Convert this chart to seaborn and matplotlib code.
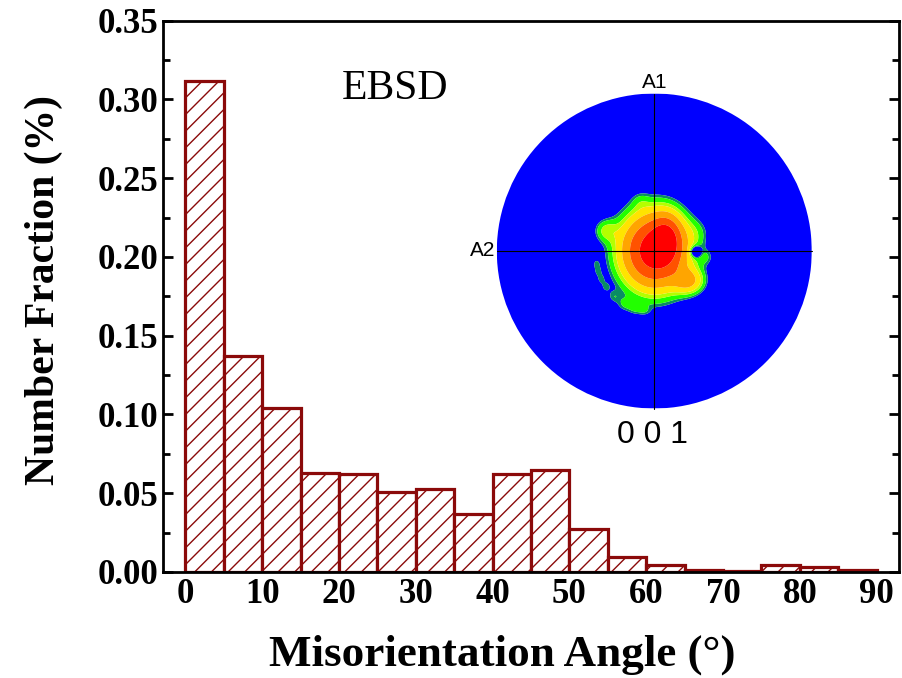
import numpy as np
import pandas as pd
import matplotlib
matplotlib.use("Agg")
import matplotlib.pyplot as plt
from matplotlib.ticker import MultipleLocator, FormatStrFormatter
from matplotlib.patches import Circle
import seaborn as sns

# ---------------- data ----------------
bin_edges = [0, 5, 10, 15, 20, 25, 30, 35, 40, 45, 50, 55, 60, 65, 70, 75, 80, 85, 90]
fractions = [0.312, 0.137, 0.104, 0.063, 0.062, 0.051, 0.053, 0.037, 0.062, 0.065,
             0.027, 0.0095, 0.0045, 0.0013, 0.0006, 0.0045, 0.0032, 0.001]
x_ticks = [0, 10, 20, 30, 40, 50, 60, 70, 80, 90]
y_ticks = [0.00, 0.05, 0.10, 0.15, 0.20, 0.25, 0.30, 0.35]

# pole figure intensity components (unit-circle coords)
pf_x = [0.00, 0.08, 0.22, 0.27, 0.26, 0.33, -0.31, -0.09,
        -0.37, -0.36, -0.34, -0.31, -0.26, -0.19, -0.12, -0.06]
pf_y = [0.00, 0.08, -0.19, 0.12, -0.005, -0.04, 0.13, 0.32,
        -0.08, -0.13, -0.18, -0.23, -0.29, -0.34, -0.37, -0.38]
pf_sx = [0.14, 0.06, 0.065, 0.06, 0.025, 0.035, 0.05, 0.04,
         0.02, 0.02, 0.02, 0.022, 0.03, 0.04, 0.035, 0.03]
pf_sy = [0.16, 0.095, 0.055, 0.06, 0.025, 0.035, 0.05, 0.04,
         0.025, 0.025, 0.025, 0.025, 0.03, 0.035, 0.03, 0.025]
pf_amp = [0.90, 0.40, 0.28, 0.05, -0.22, 0.06, 0.13, 0.04,
          0.06, 0.06, 0.06, 0.06, 0.06, 0.07, 0.06, 0.05]
pf_levels = [-10, 0.077, 0.10, 0.15, 0.20, 0.31, 0.49, 0.73, 10]
pf_colors = ["#0000FF", "#0A8C64", "#22FF00", "#B4FF00", "#FFE400",
             "#FFA500", "#FF5200", "#FF0000"]

# ---------------- style ----------------
sns.set_style("ticks")
plt.rcParams["font.family"] = ["Liberation Serif", "DejaVu Serif"]
plt.rcParams["hatch.linewidth"] = 1.0
for k in ["text.color", "axes.labelcolor", "xtick.color", "ytick.color", "axes.edgecolor"]:
    plt.rcParams[k] = "black"

W, H = 902, 678
fig = plt.figure(figsize=(W / 100, H / 100), dpi=100)
ax = fig.add_axes([163 / W, 1 - 572 / H, (899 - 163) / W, (572 - 20.7) / H])

bar_color = "#8B0A0A"
df = pd.DataFrame({
    "angle": [(a + b) / 2 for a, b in zip(bin_edges[:-1], bin_edges[1:])],
    "fraction": fractions,
})
sns.histplot(data=df, x="angle", weights="fraction", bins=bin_edges, ax=ax,
             stat="count", fill=True, color="white", edgecolor=bar_color,
             linewidth=2.3, alpha=1)
for p in ax.patches:
    p.set_facecolor("white")
    p.set_edgecolor(bar_color)
    p.set_hatch("//")

ax.set_xlim(-2.9, 92.9)
ax.set_ylim(0, 0.35)
ax.set_xticks(x_ticks)
ax.set_yticks(y_ticks)
ax.yaxis.set_major_formatter(FormatStrFormatter("%.2f"))
ax.yaxis.set_minor_locator(MultipleLocator(0.025))
ax.tick_params(axis="y", which="both", direction="in", left=True, right=True,
               width=2, labelsize=25)
ax.tick_params(axis="y", which="major", length=7)
ax.tick_params(axis="y", which="minor", length=5)
ax.tick_params(axis="x", which="both", length=0, labelsize=25, pad=4)
for lbl in ax.get_xticklabels() + ax.get_yticklabels():
    lbl.set_fontweight("bold")
for s in ax.spines.values():
    s.set_linewidth(2)
    s.set_visible(True)
ax.set_xlabel("Misorientation Angle (°)", fontsize=32.5, fontweight="bold", labelpad=17)
ax.set_ylabel("Number Fraction (%)", fontsize=30, fontweight="bold", labelpad=25)
ax.xaxis.label.set_x((502 - 163) / 736)
ax.yaxis.label.set_y((572 - 290) / 551.3)

ax.text(0.315, 0.877, "EBSD", transform=ax.transAxes, fontsize=30,
        ha="center", va="center")

# ---------------- inset pole figure ----------------
cx, cy, R = 654.3, 251.0, 157.5
half = 175
iax = fig.add_axes([(cx - half) / W, 1 - (cy + half) / H, 2 * half / W, 2 * half / H])
iax.set_xlim(-half / R, half / R)
iax.set_ylim(-half / R, half / R)
iax.set_aspect("equal")
iax.axis("off")

g = np.linspace(-1, 1, 700)
X, Y = np.meshgrid(g, g)
Z = np.zeros_like(X)
for mx, my, sx, sy, a in zip(pf_x, pf_y, pf_sx, pf_sy, pf_amp):
    Z += a * np.exp(-0.5 * (((X - mx) / sx) ** 2 + ((Y - my) / sy) ** 2))
cs = iax.contourf(X, Y, Z, levels=pf_levels, colors=pf_colors, antialiased=True)
clip = Circle((0, 0), 1, transform=iax.transData)
cs.set_clip_path(clip)
iax.plot([-1, 1], [0, 0], color="black", lw=0.8)
iax.plot([0, 0], [-1, 1], color="black", lw=0.8)

sans = ["Liberation Sans", "DejaVu Sans"]
iax.text(0, 1.035, "A1", ha="center", va="baseline", fontsize=15, family=sans)
iax.text(-1.01, 0, "A2", ha="right", va="center", fontsize=15, family=sans)
iax.text(-0.01, -1.17, "0 0 1", ha="center", va="center", fontsize=23, family=sans)

fig.savefig("out.png", dpi=100)
